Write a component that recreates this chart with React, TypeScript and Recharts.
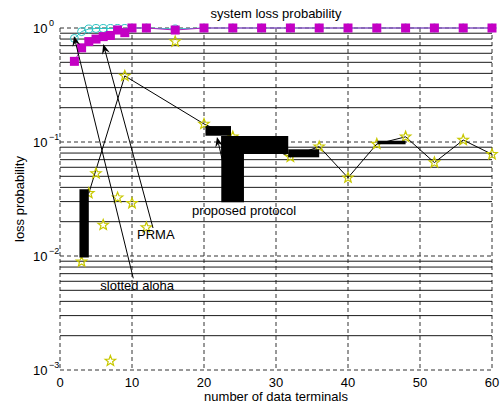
import { ComposedChart, Line, XAxis, YAxis, CartesianGrid, ReferenceLine, ReferenceArea } from 'recharts';

const FONT = '"Liberation Sans", Arial, Helvetica, sans-serif';

// number of data terminals
const terminals = [2, 3, 4, 5, 6, 7, 8, 9, 10, 12, 16, 20, 24, 28, 32, 36, 40, 44, 48, 52, 56, 60];
const slottedAlohaLoss = [0.81, 0.93, 0.98, 0.99, 0.99, 0.99, 0.99, 0.99, 1, 1, 0.98, 1, 1, 1, 1, 1, 1, 1, 1, 1, 1, 1];
const prmaLoss = [0.51, 0.67, 0.76, 0.8, 0.84, 0.86, 0.96, 0.91, 1, 1, 0.96, 1, 1, 1, 1, 1, 1, 1, 1, 1, 1, 1];

// proposed protocol: joined points
const protoX = [4, 9, 20, 24, 28, 32, 36, 40, 44, 48, 52, 56, 60];
const protoLoss = [0.0355, 0.38, 0.144, 0.111, 0.095, 0.074, 0.091, 0.0486, 0.096, 0.111, 0.066, 0.104, 0.078];
// proposed protocol: loose stars
const looseX = [3, 5, 6, 7, 8, 10, 12, 16];
const looseLoss = [0.0089, 0.053, 0.0187, 0.0012, 0.0325, 0.029, 0.0178, 0.76];

// black blocks
const blockX1 = [2.7, 20.2, 22.4, 22.4, 31.7, 44.1];
const blockX2 = [4.0, 23.75, 31.7, 25.55, 36.0, 48.0];
const blockTop = [0.0385, 0.138, 0.113, 0.113, 0.0863, 0.1026];
const blockBottom = [0.0097, 0.1135, 0.0785, 0.0296, 0.0734, 0.0955];

const xTicks = [0, 10, 20, 30, 40, 50, 60];
const yTicks = [0.001, 0.01, 0.1, 1];
const yExponents = ['\u22123', '\u22122', '\u22121', '0'];
const minorGrid = [0.001, 0.01, 0.1].flatMap(d => [2, 3, 4, 5, 6, 7, 8, 9].map(m => m * d));

// text arrows: label tail -> head
const arrowText = ['slotted aloha', 'PRMA', 'proposed protocol'];
const arrowFrom = [[10.18, 0.00637], [12.92, 0.0176], [23.9, 0.0298]];
const arrowTo = [[1.94, 0.851], [6.01, 0.724], [21.8, 0.1106]];
const arrowTextOffset = [[-33, 12], [-16, 11], [-40, 13]];

const slottedData = terminals.map((x, i) => ({ x, y: slottedAlohaLoss[i] }));
const prmaData = terminals.map((x, i) => ({ x, y: prmaLoss[i] }));
const protoData = protoX.map((x, i) => ({ x, y: protoLoss[i] }));
const starData = [...protoData, ...looseX.map((x, i) => ({ x, y: looseLoss[i] }))];

function Star({ cx, cy }: any) {
  if (cx == null || cy == null) return null;
  const R = 5.5, r = 2.3;
  const pts = Array.from({ length: 10 }, (_, i) => {
    const a = (-90 + i * 36) * Math.PI / 180;
    const rad = i % 2 ? r : R;
    return `${cx + rad * Math.cos(a)},${cy + rad * Math.sin(a)}`;
  }).join(' ');
  return <polygon points={pts} fill="none" stroke="#c8c800" strokeWidth={1.2} />;
}

function Circle({ cx, cy }: any) {
  if (cx == null || cy == null) return null;
  return <circle cx={cx} cy={cy} r={4} fill="none" stroke="#2cc4c4" strokeWidth={1} />;
}

function Square({ cx, cy }: any) {
  if (cx == null || cy == null) return null;
  return <rect x={cx - 4.5} y={cy - 4.5} width={9} height={9} fill="#c400c4" />;
}

function Arrow(props: any) {
  const { x1, y1, x2, y2, text, tx, ty } = props;
  const a = Math.atan2(y2 - y1, x2 - x1);
  const c = Math.cos(a), s = Math.sin(a);
  const L = 10, W = 4, N = 6.5;
  const head = [
    [x2, y2],
    [x2 - L * c + W * s, y2 - L * s - W * c],
    [x2 - N * c, y2 - N * s],
    [x2 - L * c - W * s, y2 - L * s + W * c],
  ].map(p => p.join(',')).join(' ');
  return (
    <g>
      <line x1={x1} y1={y1} x2={x2 - N * c} y2={y2 - N * s} stroke="#000" strokeWidth={1} />
      <polygon points={head} fill="#000" />
      <text x={x1 + tx} y={y1 + ty} fontSize={13} fontFamily={FONT} fill="#000">{text}</text>
    </g>
  );
}

function YTick(p: any) {
  const i = yTicks.indexOf(p.payload.value);
  const sx = 33;
  return (
    <g fontFamily={FONT} fill="#000">
      <text x={sx} y={p.y + 5} fontSize={13}>10</text>
      <text x={sx + 16} y={p.y - 2} fontSize={9}>{yExponents[i]}</text>
    </g>
  );
}

export default function App() {
  return (
    <div style={{ position: 'absolute', left: 0, top: 0, width: 502, height: 406, background: '#fff', fontFamily: FONT, color: '#000' }}>
      <ComposedChart width={502} height={406} margin={{ top: 28, right: 10, left: 10, bottom: 6 }}>
        <CartesianGrid horizontalValues={yTicks} verticalValues={xTicks} stroke="#333" strokeDasharray="4 3" />
        {minorGrid.map(v => (
          <ReferenceLine key={v} y={v} stroke="#1a1a1a" strokeWidth={1} zIndex={-90} />
        ))}
        <XAxis
          type="number" dataKey="x" domain={[0, 60]} ticks={xTicks}
          axisLine={false} tickLine={false} height={30}
          tick={{ fontSize: 13, fill: '#000', fontFamily: FONT }}
        />
        <YAxis
          type="number" dataKey="y" scale="log" domain={[0.001, 1]} ticks={yTicks}
          axisLine={false} tickLine={false} width={50} tick={<YTick />}
        />
        <Line data={protoData} dataKey="y" stroke="#000" strokeWidth={1} dot={false} isAnimationActive={false} />
        <Line data={starData} dataKey="y" stroke="none" dot={(p: any) => <Star key={p.index} cx={p.cx} cy={p.cy} />} isAnimationActive={false} />
        <Line data={slottedData} dataKey="y" stroke="#2cc4c4" strokeWidth={1} dot={(p: any) => <Circle key={p.index} cx={p.cx} cy={p.cy} />} isAnimationActive={false} />
        <Line data={prmaData} dataKey="y" stroke="#b020c0" strokeWidth={1} dot={(p: any) => <Square key={p.index} cx={p.cx} cy={p.cy} />} isAnimationActive={false} />
        {arrowText.map((t, i) => (
          <ReferenceLine
            key={t}
            segment={[{ x: arrowFrom[i][0], y: arrowFrom[i][1] }, { x: arrowTo[i][0], y: arrowTo[i][1] }]}
            zIndex={650}
            shape={(p: any) => <Arrow {...p} text={t} tx={arrowTextOffset[i][0]} ty={arrowTextOffset[i][1]} />}
          />
        ))}
        {blockX1.map((x1, i) => (
          <ReferenceArea
            key={i} x1={x1} x2={blockX2[i]} y1={blockBottom[i]} y2={blockTop[i]}
            fill="#000" fillOpacity={1} stroke="none" zIndex={700}
          />
        ))}
      </ComposedChart>
      <div style={{ position: 'absolute', left: 276, top: 6.5, transform: 'translateX(-50%)', fontSize: 13, lineHeight: '13px', whiteSpace: 'nowrap' }}>
        system loss probability
      </div>
      <div style={{ position: 'absolute', left: 276, top: 390, transform: 'translateX(-50%)', fontSize: 13, lineHeight: '13px', whiteSpace: 'nowrap' }}>
        number of data terminals
      </div>
      <div style={{ position: 'absolute', left: 19, top: 199, transform: 'translate(-50%, -50%) rotate(-90deg)', fontSize: 13, lineHeight: '13px', whiteSpace: 'nowrap' }}>
        loss probability
      </div>
    </div>
  );
}
